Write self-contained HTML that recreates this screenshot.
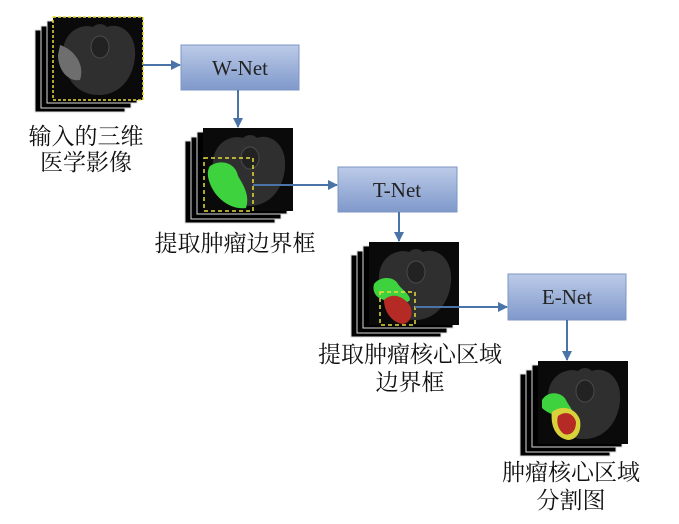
<!DOCTYPE html>
<html><head><meta charset="utf-8"><style>
html,body{margin:0;padding:0;background:#fff;}
svg{display:block;}
text{font-family:"Liberation Serif","Noto Serif CJK SC",serif;}
</style></head><body>
<svg width="679" height="524" viewBox="0 0 679 524" xmlns="http://www.w3.org/2000/svg">
<defs>
<linearGradient id="bg" x1="0" y1="0" x2="0" y2="1">
<stop offset="0" stop-color="#bccbe8"/><stop offset="1" stop-color="#7f99cb"/>
</linearGradient>
<marker id="ah" markerWidth="10" markerHeight="10" refX="9" refY="5" orient="auto" markerUnits="userSpaceOnUse">
<path d="M0,0 L10,5 L0,10 Z" fill="#4a74a8"/>
</marker>
<g id="stack">
<rect x="-18" y="13" width="90" height="82" fill="#000" stroke="#ddd" stroke-width="1"/>
<rect x="-12" y="9" width="90" height="82" fill="#000" stroke="#ddd" stroke-width="1"/>
<rect x="-6" y="4" width="90" height="82" fill="#000" stroke="#ddd" stroke-width="1"/>
<rect x="0" y="0" width="90" height="83" fill="#0a0a0a"/>
<path d="M10,40 C8,15 28,6 40,10 C44,6 50,6 54,10 C66,5 84,15 82,40 C80,62 66,78 46,78 C24,78 12,62 10,40 Z" fill="#2f2f2f"/>
<ellipse cx="47" cy="30" rx="9" ry="11" fill="#222" stroke="#4a4a4a" stroke-width="1"/>
</g>
</defs>
<use href="#stack" x="53" y="17"/>
<path d="M60,45 C75,50 85,65 80,80 C68,82 58,70 58,55 Z" fill="#6e6e6e"/>
<rect x="53" y="17" width="90" height="83" fill="none" stroke="#e8dc3a" stroke-width="1.5" stroke-dasharray="3,2"/>
<use href="#stack" x="203" y="128"/>
<path d="M210,166 C222,158 236,164 238,176 C244,186 250,196 246,208 C232,210 218,200 212,188 C208,180 206,172 210,166 Z" fill="#3ed23e"/>
<rect x="204" y="158" width="49" height="53" fill="none" stroke="#e8dc3a" stroke-width="1.5" stroke-dasharray="4,3"/>
<use href="#stack" x="369" y="242"/>
<path d="M374,284 C380,276 394,276 398,284 C402,290 410,294 410,300 C404,306 394,300 384,300 C376,298 372,292 374,284 Z" fill="#3ed23e"/>
<path d="M384,300 C392,292 404,296 410,306 C414,314 410,324 402,324 C392,322 384,312 384,300 Z" fill="#b52a25"/>
<rect x="380" y="292" width="35" height="33" fill="none" stroke="#e8dc3a" stroke-width="1.5" stroke-dasharray="4,3"/>
<use href="#stack" x="538" y="361"/>
<path d="M542,400 C548,390 562,392 566,400 C570,408 574,410 572,416 C560,418 548,414 542,408 Z" fill="#3ed23e"/>
<path d="M552,412 C562,404 576,408 580,420 C582,432 576,440 568,440 C556,438 550,426 552,412 Z" fill="#d8d23a"/>
<path d="M558,416 C566,410 574,414 576,422 C576,432 570,436 564,434 C558,430 556,422 558,416 Z" fill="#b52a25"/>
<rect x="181" y="45" width="118" height="45" fill="url(#bg)" stroke="#7d95c2" stroke-width="1"/>
<text x="240" y="75" font-size="21" text-anchor="middle" fill="#222">W-Net</text>
<rect x="338" y="167" width="119" height="45" fill="url(#bg)" stroke="#7d95c2" stroke-width="1"/>
<text x="397" y="197" font-size="21" text-anchor="middle" fill="#222">T-Net</text>
<rect x="508" y="274" width="118" height="46" fill="url(#bg)" stroke="#7d95c2" stroke-width="1"/>
<text x="567" y="304" font-size="21" text-anchor="middle" fill="#222">E-Net</text>
<g stroke="#4a74a8" stroke-width="2" fill="none">
<line x1="143" y1="65" x2="180" y2="65" marker-end="url(#ah)"/>
<line x1="238" y1="90" x2="238" y2="127" marker-end="url(#ah)"/>
<line x1="253" y1="185" x2="337" y2="185" marker-end="url(#ah)"/>
<line x1="399" y1="212" x2="399" y2="241" marker-end="url(#ah)"/>
<line x1="415" y1="307" x2="507" y2="307" marker-end="url(#ah)"/>
<line x1="567" y1="320" x2="567" y2="360" marker-end="url(#ah)"/>
</g>
<g font-size="23" fill="#111" text-anchor="middle">
<text x="86" y="144">输入的三维</text>
<text x="86" y="170">医学影像</text>
<text x="235" y="251">提取肿瘤边界框</text>
<text x="410" y="362">提取肿瘤核心区域</text>
<text x="410" y="390">边界框</text>
<text x="571" y="480">肿瘤核心区域</text>
<text x="571" y="508">分割图</text>
</g>
</svg>
</body></html>
